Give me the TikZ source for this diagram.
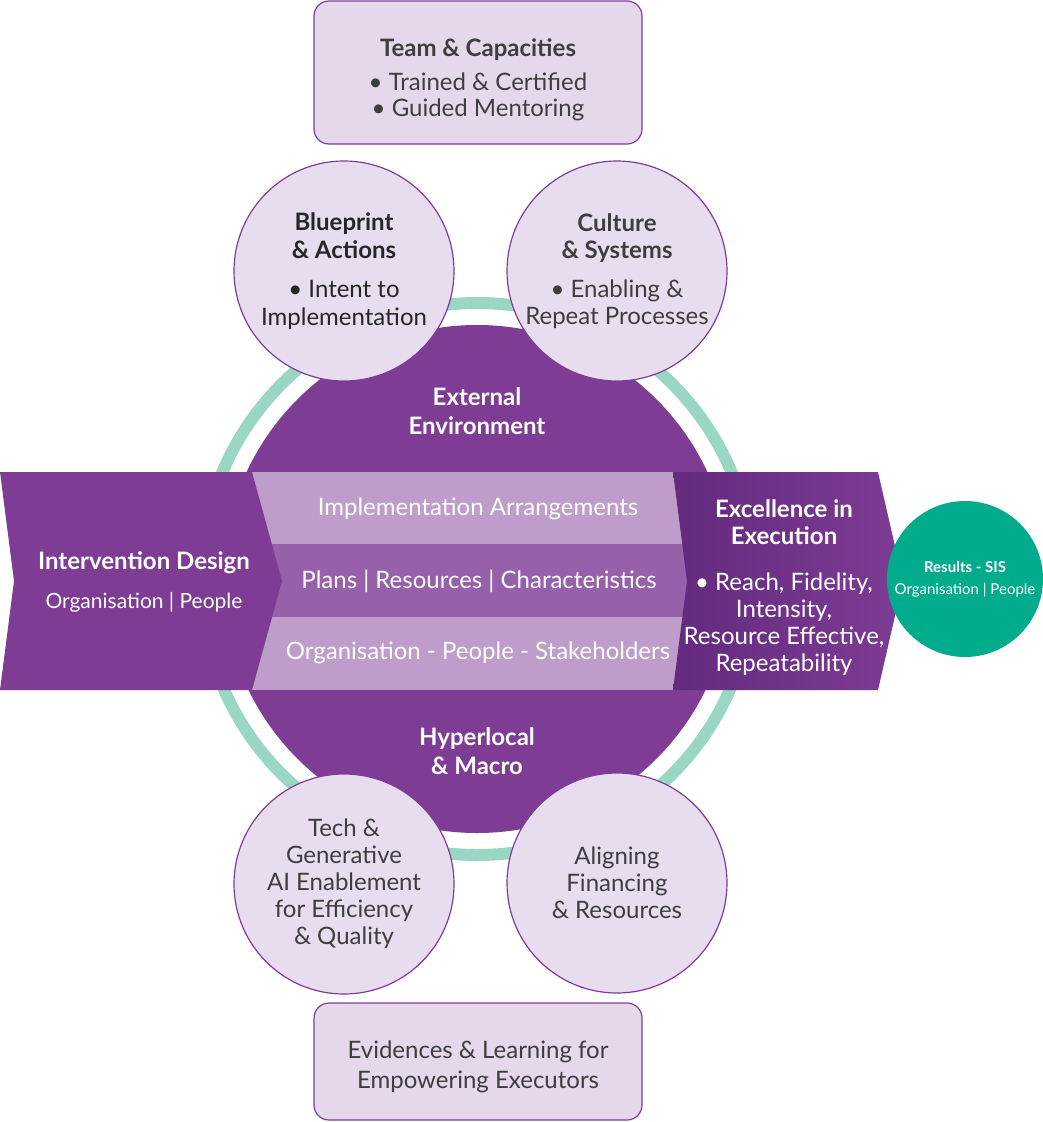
\documentclass[tikz,border=0pt]{standalone}
\usepackage{fontspec}
\setmainfont{Lato}
\usepackage{tikz}
\definecolor{mainpurple}{RGB}{126,60,149}
\definecolor{linepurple}{RGB}{125,62,152}
\definecolor{petalfill}{RGB}{232,221,238}
\definecolor{boxfill}{RGB}{230,216,235}
\definecolor{ringteal}{RGB}{154,214,196}
\definecolor{stripelight}{RGB}{190,157,203}
\definecolor{stripemid}{RGB}{151,96,170}
\definecolor{execdark}{RGB}{99,42,126}
\definecolor{resultteal}{RGB}{0,172,140}
\definecolor{darktext}{RGB}{62,62,62}
\tikzset{
    every node/.style={font=\fontsize{24}{27}\selectfont, align=center},
    petal/.style={circle, draw=linepurple, line width=1.2pt, fill=petalfill,
        minimum size=220pt, inner sep=0pt, text=darktext},
    pillar/.style={rectangle, rounded corners=15pt, draw=linepurple, line width=1.2pt,
        fill=boxfill, minimum width=328pt},
    whitehead/.style={text=white, font=\bfseries\fontsize{24}{29}\selectfont}
}

\begin{document}
\begin{tikzpicture}[x=1pt,y=-1pt]
                \useasboundingbox (0,0) rectangle (1043,1122);

                % Draw teal ring and core circle
                \draw[ringteal, line width=12pt] (477,579) circle (276);
                \node[circle, fill=mainpurple, minimum size=508pt, inner sep=0pt] (core) at (477,579) {};
                \node[whitehead] (external) at (477,411) {External\\Environment};
                \node[whitehead] (hyperlocal) at (477,751) {Hyperlocal\\\& Macro};

                % Draw stripes of the band
                \fill[stripelight] (250,472) rectangle (690,544);
                \fill[stripemid] (250,544) rectangle (690,617);
                \fill[stripelight] (250,617) rectangle (690,690);
                \node[text=white] (arrangements) at (478,509) {Implementation Arrangements};
                \node[text=white] (plans) at (479,581) {Plans | Resources | Characteristics};
                \node[text=white] (stakeholders) at (478,653) {Organisation - People - Stakeholders};

                % Draw left and right chevrons
                \fill[mainpurple] (0,472) -- (252,472) -- (282,581) -- (252,690) -- (0,690) -- (14,581) -- cycle;
                \shade[left color=execdark, right color=mainpurple]
                    (673,472) -- (878,472) -- (903,581) -- (878,690) -- (673,690) -- (687,581) -- cycle;
                \node[text=white] (design) at (144,582)
                    {\textbf{Intervention Design}\\[12pt]{\fontsize{21}{24}\selectfont Organisation | People}};
                \node[text=white] (excellence) at (784,588)
                    {\textbf{Excellence in}\\\textbf{Execution}\\[19pt]• Reach, Fidelity,\\Intensity,\\Resource Effective,\\Repeatability};

                % Draw results circle
                \node[circle, fill=resultteal, minimum size=156pt, inner sep=0pt, text=white,
                    font=\fontsize{15}{22}\selectfont] (results) at (965,579)
                    {\textbf{Results - SIS}\\Organisation | People};

                % Draw the four petals
                \node[petal, font=\fontsize{24}{28}\selectfont, text=black!85] (blueprint) at (344,271)
                    {\textbf{Blueprint}\\\textbf{\& Actions}\\[11pt]• Intent to\\Implementation};
                \node[petal, font=\fontsize{24}{27}\selectfont] (culture) at (617,271)
                    {\textbf{Culture}\\\textbf{\& Systems}\\[12pt]• Enabling \&\\Repeat Processes};
                \node[petal] (tech) at (344,884)
                    {Tech \&\\Generative\\AI Enablement\\for Efficiency\\\& Quality};
                \node[petal] (financing) at (617,883)
                    {Aligning\\Financing\\\& Resources};

                % Draw top and bottom boxes
                \node[pillar, minimum height=143pt] (teambox) at (478,72.5) {};
                \node[text=darktext, font=\fontsize{24}{26}\selectfont] (team) at (478,80)
                    {\textbf{Team \& Capacities}\\[8pt]• Trained \& Certified\\• Guided Mentoring};
                \node[pillar, minimum height=117pt] (evidencebox) at (478,1061.5) {};
                \node[text=darktext, font=\fontsize{24}{30}\selectfont] (evidence) at (478,1067)
                    {Evidences \& Learning for\\Empowering Executors};
            \end{tikzpicture}
\end{document}
